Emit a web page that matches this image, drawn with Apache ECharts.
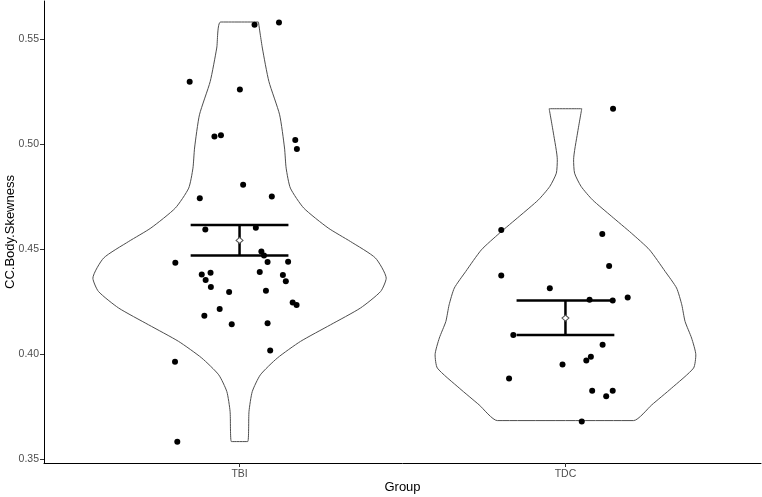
<!DOCTYPE html>
<html>
<head>
<meta charset="utf-8">
<script src="https://cdn.jsdelivr.net/npm/echarts@6/dist/echarts.min.js"></script>
<style>
  html, body { margin: 0; padding: 0; background: #fff; }
  #chart { width: 762px; height: 497px; }
</style>
</head>
<body>
<div id="chart"></div>
<script>
const groups = ['TBI', 'TDC'];
const yTicks = [0.35, 0.40, 0.45, 0.50, 0.55];

// jittered observations (x offset from group centre, value)
const tbiJitter = [0.121, 0.046, -0.153, 0.001, -0.077, -0.057, 0.171, 0.176, 0.011, -0.122, 0.099, -0.105,
  0.050, 0.067, 0.075, -0.197, 0.086, 0.149, -0.116, -0.089, 0.062, 0.133, -0.104, 0.142,
  -0.088, -0.032, 0.081, 0.163, 0.175, -0.061, -0.108, -0.024, 0.086, 0.094, -0.198, -0.191];
const tbiValues = [0.5578, 0.5567, 0.5295, 0.5259, 0.5035, 0.5041, 0.5018, 0.4975, 0.4805, 0.4741, 0.4749, 0.4592,
  0.4600, 0.4487, 0.4468, 0.4433, 0.4437, 0.4438, 0.4378, 0.4386, 0.4390, 0.4375, 0.4352, 0.4346,
  0.4318, 0.4294, 0.4300, 0.4244, 0.4232, 0.4213, 0.4181, 0.4141, 0.4146, 0.4016, 0.3962, 0.3581];
const tdcJitter = [0.146, -0.197, 0.113, 0.134, -0.197, -0.048, 0.191, 0.074, 0.145, -0.160,
  0.114, 0.078, 0.064, -0.009, -0.173, 0.082, 0.145, 0.125, 0.050];
const tdcValues = [0.5167, 0.4589, 0.4571, 0.4418, 0.4373, 0.4312, 0.4268, 0.4257, 0.4254, 0.4089,
  0.4043, 0.3986, 0.3968, 0.3949, 0.3882, 0.3824, 0.3824, 0.3798, 0.3678];

// violin profiles (value, half width)
const tbiDensityY = [0.5580, 0.5456, 0.5297, 0.5138, 0.4980, 0.4884, 0.4789, 0.4694, 0.4599, 0.4535, 0.4456,
  0.4360, 0.4297, 0.4218, 0.4138, 0.4059, 0.3980, 0.3900, 0.3820, 0.3725, 0.3582];
const tbiHalfWidth = [0.058, 0.070, 0.090, 0.123, 0.138, 0.143, 0.156, 0.197, 0.272, 0.340, 0.417,
  0.450, 0.433, 0.371, 0.279, 0.187, 0.116, 0.064, 0.039, 0.029, 0.025];
const tdcDensityY = [0.5167, 0.5051, 0.4924, 0.4860, 0.4797, 0.4733, 0.4654, 0.4575, 0.4495, 0.4392,
  0.4313, 0.4233, 0.4154, 0.4075, 0.3995, 0.3932, 0.3837, 0.3757, 0.3682];
const tdcHalfWidth = [0.050, 0.037, 0.025, 0.028, 0.048, 0.083, 0.142, 0.202, 0.258, 0.306,
  0.341, 0.357, 0.367, 0.387, 0.400, 0.393, 0.326, 0.265, 0.209];

// mean and standard error
const means = [0.4540, 0.4170];
const errLow = [0.4468, 0.4090];
const errHigh = [0.4613, 0.4254];

function outline(center, ys, hw) {
  const pts = [];
  for (let i = 0; i < ys.length; i++) pts.push([center + hw[i], ys[i]]);
  for (let i = ys.length - 1; i >= 0; i--) pts.push([center - hw[i], ys[i]]);
  pts.push(pts[0]);
  return pts;
}
function jittered(center, jit, vals) {
  return vals.map((v, i) => [center + jit[i], v]);
}

const violinStyle = {
  type: 'line', symbol: 'none', smooth: 0.2, silent: true, z: 1,
  lineStyle: { color: '#4d4d4d', width: 1 }
};

const option = {
  animation: false,
  backgroundColor: '#fff',
  grid: { left: 44, top: 1, width: 717, height: 462, containLabel: false, outerBoundsMode: 'none' },
  xAxis: {
    type: 'value', min: 0.4, max: 2.6,
    name: 'Group', nameLocation: 'middle', nameGap: 18, nameMoveOverlap: false,
    nameTextStyle: { color: '#000', fontSize: 13, fontFamily: 'Liberation Sans' },
    axisLine: { onZero: false, lineStyle: { color: '#000', width: 1 } },
    axisTick: { customValues: [1, 2], length: 4, lineStyle: { color: '#333' } },
    axisLabel: { customValues: [1, 2], formatter: v => groups[Math.round(v) - 1], color: '#4d4d4d',
      fontSize: 10.5, fontFamily: 'Liberation Sans', margin: 6 },
    splitLine: { show: false }
  },
  yAxis: {
    type: 'value', min: 0.348, max: 0.568,
    name: 'CC.Body.Skewness', nameLocation: 'middle', nameGap: 27, nameMoveOverlap: false,
    nameTextStyle: { color: '#000', fontSize: 13, fontFamily: 'Liberation Sans' },
    axisLine: { show: true, lineStyle: { color: '#000', width: 1 } },
    axisTick: { show: true, customValues: yTicks, length: 4, lineStyle: { color: '#333' } },
    axisLabel: { customValues: yTicks, formatter: v => v.toFixed(2), color: '#4d4d4d',
      fontSize: 10.5, fontFamily: 'Liberation Sans', margin: 5 },
    splitLine: { show: false }
  },
  series: [
    Object.assign({ data: outline(1, tbiDensityY, tbiHalfWidth) }, violinStyle),
    Object.assign({ data: outline(2, tdcDensityY, tdcHalfWidth) }, violinStyle),
    {
      type: 'scatter', symbolSize: 6, z: 3,
      itemStyle: { color: '#000', opacity: 1 },
      data: jittered(1, tbiJitter, tbiValues).concat(jittered(2, tdcJitter, tdcValues))
    },
    {
      type: 'custom', z: 4,
      data: groups.map((g, i) => [i + 1, errLow[i], errHigh[i]]),
      renderItem: function (params, api) {
        const x = api.value(0);
        const lo = api.coord([x, api.value(1)]);
        const hi = api.coord([x, api.value(2)]);
        const l1 = api.coord([x - 0.15, api.value(1)]);
        const r1 = api.coord([x + 0.15, api.value(1)]);
        const l2 = api.coord([x - 0.15, api.value(2)]);
        const r2 = api.coord([x + 0.15, api.value(2)]);
        const st = { stroke: '#000', lineWidth: 2.5 };
        return {
          type: 'group',
          children: [
            { type: 'line', shape: { x1: lo[0], y1: lo[1], x2: hi[0], y2: hi[1] }, style: st },
            { type: 'line', shape: { x1: l1[0], y1: l1[1], x2: r1[0], y2: r1[1] }, style: st },
            { type: 'line', shape: { x1: l2[0], y1: l2[1], x2: r2[0], y2: r2[1] }, style: st }
          ]
        };
      }
    },
    {
      type: 'scatter', symbol: 'diamond', symbolSize: [7, 6], z: 5,
      itemStyle: { color: '#fff', borderColor: '#555', borderWidth: 1, opacity: 1 },
      data: means.map((m, i) => [i + 1, m])
    }
  ]
};

const myChart = echarts.init(document.getElementById('chart'));
myChart.setOption(option);
window.addEventListener('resize', () => { myChart.resize(); });
</script>
</body>
</html>
